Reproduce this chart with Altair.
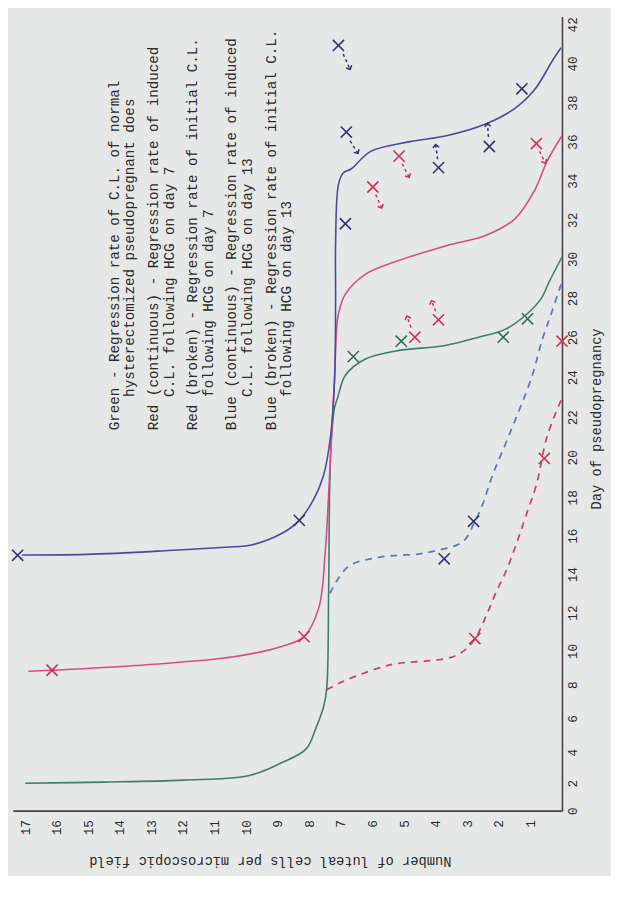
import math
import altair as alt
import pandas as pd

FONT = "Liberation Mono"

# ---------------- data: (luteal cells per field, day of pseudopregnancy) ----------------
green_cells = [17.0, 14.5, 12.0, 9.9, 8.85, 8.1, 7.8, 7.55, 7.45, 7.39, 7.36, 7.3, 7.2, 7.1, 6.86, 6.24, 5.3, 3.66, 2.64, 1.8, 1.1, 0.65, 0.4, 0.0]
green_days = [2.0, 2.07, 2.2, 2.5, 3.35, 4.2, 5.4, 6.7, 7.8, 13.1, 18.2, 21.0, 22.5, 23.0, 24.1, 24.9, 25.3, 25.6, 26.0, 26.4, 27.2, 28.0, 28.85, 30.1]

red_cells = [16.9, 16.15, 13.5, 10.4, 8.85, 8.17, 7.7, 7.5, 7.39, 7.3, 7.2, 7.14, 7.08, 6.86, 6.24, 5.31, 3.66, 2.42, 1.49, 0.87, 0.47, 0.0]
red_days = [8.8, 8.86, 9.14, 9.66, 10.25, 10.75, 12.26, 15.1, 18.15, 21.05, 24.0, 26.4, 27.2, 28.2, 29.2, 29.84, 30.68, 31.2, 32.05, 33.5, 35.0, 36.3]

red_broken_cells = [7.45, 6.93, 5.84, 5.22, 4.19, 3.45, 3.04, 2.73, 2.42, 2.11, 1.74, 1.43, 1.12, 0.81, 0.47, 0.03]
red_broken_days = [7.7, 8.2, 8.97, 9.26, 9.43, 9.66, 10.1, 10.7, 11.76, 12.97, 14.28, 15.64, 17.14, 18.63, 21.05, 22.85]

blue_cells = [17.1, 15.06, 12.45, 10.4, 9.88, 8.85, 8.32, 7.86, 7.55, 7.33, 7.2, 7.17, 7.17, 7.08, 6.93, 6.68, 6.06, 4.81, 3.66, 2.42, 1.49, 0.87, 0.28, 0.03]
blue_days = [15.0, 15.03, 15.23, 15.43, 15.5, 16.14, 16.8, 17.9, 19.1, 21.05, 24.0, 27.9, 30.8, 33.8, 34.4, 34.6, 35.5, 36.0, 36.3, 36.9, 37.7, 38.65, 40.2, 40.8]

blue_broken_cells = [7.35, 6.77, 5.84, 5.22, 4.6, 3.98, 3.35, 3.04, 2.8, 2.52, 2.2, 1.65, 0.96, 0.62, 0.34, 0.03]
blue_broken_days = [13.0, 14.4, 14.86, 14.98, 15.03, 15.23, 15.5, 15.86, 16.6, 17.6, 19.1, 21.2, 24.0, 25.9, 27.2, 28.7]

# observations (X marks)
green_x_cells = [6.61, 5.09, 1.86, 1.09]
green_x_days = [25.03, 25.8, 26.0, 26.94]
red_x_cells = [16.15, 8.17, 5.99, 5.16, 0.81, 4.66, 3.91, 0.0, 2.76, 0.56]
red_x_days = [8.86, 10.75, 33.68, 35.26, 35.9, 26.0, 26.89, 25.8, 10.65, 19.94]
blue_x_cells = [17.24, 8.32, 6.86, 6.83, 7.08, 3.91, 2.3, 1.27, 3.73, 2.8]
blue_x_days = [14.98, 16.8, 31.8, 36.49, 40.92, 34.67, 35.75, 38.7, 14.8, 16.75]

# dashed arrows next to some observations: start/end (cells, day)
arrow_color = ["blue", "blue", "blue", "blue", "red", "red", "red", "red", "red"]
arrow_c1 = [6.93, 6.71, 3.94, 2.33, 5.06, 5.9, 0.71, 4.78, 4.0]
arrow_d1 = [40.48, 36.04, 35.1, 36.24, 34.86, 33.29, 35.5, 26.49, 27.33]
arrow_c2 = [6.71, 6.46, 4.0, 2.36, 4.84, 5.71, 0.53, 4.91, 4.13]
arrow_d2 = [39.69, 35.4, 35.85, 36.93, 34.17, 32.6, 34.9, 27.08, 27.87]

legend_lines = [
    "Green - Regression rate of C.L. of normal",
    "hysterectomized pseudopregnant does",
    "Red (continuous) - Regression rate of induced",
    "C.L. following HCG on day 7",
    "Red (broken) - Regression rate of initial C.L.",
    "following HCG on day 7",
    "Blue (continuous) - Regression rate of induced",
    "C.L. following HCG on day 13",
    "Blue (broken) - Regression rate of initial C.L.",
    "following HCG on day 13",
]

day_ticks = list(range(0, 43, 2))
cell_ticks = list(range(1, 18))

# ---------------- styling ----------------
COL = {
    "green": "#3d7d6c",
    "red": "#d44c88",
    "red_broken": "#c9436b",
    "blue": "#4a4a9a",
    "blue_broken": "#5a7ab8",
}
MARK_COL = {"green": "#2f6d58", "red": "#cc3050", "blue": "#2f3078"}

rows = []
for name, cs, ds in [
    ("green", green_cells, green_days),
    ("red", red_cells, red_days),
    ("red_broken", red_broken_cells, red_broken_days),
    ("blue", blue_cells, blue_days),
    ("blue_broken", blue_broken_cells, blue_broken_days),
]:
    for i, (c, d) in enumerate(zip(cs, ds)):
        rows.append({"series": name, "seq": i, "cells": c, "day": d,
                     "col": COL[name], "dashed": name.endswith("broken")})
lines_df = pd.DataFrame(rows)

mrows = []
for grp, cs, ds in [("green", green_x_cells, green_x_days),
                    ("red", red_x_cells, red_x_days),
                    ("blue", blue_x_cells, blue_x_days)]:
    for c, d in zip(cs, ds):
        mrows.append({"cells": c, "day": d, "col": MARK_COL[grp]})
marks_df = pd.DataFrame(mrows)

PX_CELL, PX_DAY = 32.2, 20.2
arows = []
for g, c1, d1, c2, d2 in zip(arrow_color, arrow_c1, arrow_d1, arrow_c2, arrow_d2):
    dx = -(c2 - c1) * PX_CELL
    dy = -(d2 - d1) * PX_DAY
    ang = math.degrees(math.atan2(-dx, dy)) % 360
    arows.append({"c1": c1, "d1": d1, "c2": c2, "d2": d2, "ang": ang,
                  "col": MARK_COL[g]})
arrows_df = pd.DataFrame(arows)

W, H = 560, 810
xscale = alt.Scale(domain=[0, 17.39], reverse=True, nice=False, zero=False)
yscale = alt.Scale(domain=[0, 2, 4, 10, 18, 26, 42.4],
                   range=[810, 782, 750.4, 647.2, 490.4, 327.1, 0], nice=False, zero=False)

AX_COL = "#4a3e4a"
TXT_COL = "#2a2a2a"

xaxis = alt.Axis(values=cell_ticks, labelAngle=270, labelAlign="right", labelBaseline="middle",
                 labelPadding=9, labelOverlap=False, labelBound=False, labelFlush=False,
                 ticks=False, tickSize=0, grid=False,
                 domainColor=AX_COL, domainWidth=1.6,
                 labelFont=FONT, labelFontSize=13, labelColor=TXT_COL, format="d",
                 title="Number of luteal cells per microscopic field", titleAngle=180,
                 titleFont=FONT, titleFontSize=14, titleFontWeight="normal", titleColor=TXT_COL,
                 titleX=262, titleY=51, titleAlign="center", titleBaseline="middle")
yaxis = alt.Axis(orient="right", values=day_ticks, labelAngle=270, labelAlign="center",
                 labelBaseline="middle", labelPadding=11, labelOverlap=False, labelBound=False,
                 labelFlush=False, ticks=False, tickSize=0, grid=False,
                 domainColor=AX_COL, domainWidth=1.6, labelFont=FONT, labelFontSize=13,
                 labelColor=TXT_COL, format="d",
                 title="Day of pseudopregnancy", titleAngle=270, titleFont=FONT, titleFontSize=14,
                 titleFontWeight="normal", titleColor=TXT_COL, titleX=35, titleY=410,
                 titleAlign="center", titleBaseline="middle")


def X(field):
    return alt.X(field, scale=xscale, axis=xaxis)


def Y(field):
    return alt.Y(field, scale=yscale, axis=yaxis)


base_lines = alt.Chart(lines_df)
solid = base_lines.transform_filter("!datum.dashed").mark_line(
    interpolate="catmull-rom", strokeWidth=1.6).encode(
    x=X("cells:Q"), y=Y("day:Q"),
    color=alt.Color("col:N", scale=None),
    detail="series:N",
    order="seq:Q",
)
dashed = base_lines.transform_filter("datum.dashed").mark_line(
    interpolate="catmull-rom", strokeWidth=1.8, strokeDash=[7, 6]).encode(
    x=X("cells:Q"), y=Y("day:Q"),
    color=alt.Color("col:N", scale=None),
    detail="series:N",
    order="seq:Q",
)

xmarks = alt.Chart(marks_df).mark_point(
    shape="M-1,-1L1,1M1,-1L-1,1", filled=False, strokeWidth=1.6, size=130, opacity=1).encode(
    x=X("cells:Q"), y=Y("day:Q"),
    color=alt.Color("col:N", scale=None),
)

arrow_lines = alt.Chart(arrows_df).mark_rule(strokeWidth=1.5, strokeDash=[3, 3]).encode(
    x=X("c1:Q"), x2="c2:Q",
    y=Y("d1:Q"), y2="d2:Q",
    color=alt.Color("col:N", scale=None),
)
arrow_heads = alt.Chart(arrows_df).mark_point(
    shape="M-1,-1L0,0L1,-1", filled=False, strokeWidth=1.5, size=40, opacity=1).encode(
    x=X("c2:Q"), y=Y("d2:Q"),
    angle=alt.Angle("ang:Q", scale=None),
    color=alt.Color("col:N", scale=None),
)

# legend text block (typed note), positions in pixels
leg_x = [104, 120, 144, 160, 184, 200, 224, 240, 264, 280]
leg_y = [422, 388, 422, 388, 422, 388, 422, 388, 422, 388]
legend_layers = []
for txt, px, py in zip(legend_lines, leg_x, leg_y):
    legend_layers.append(
        alt.Chart(pd.DataFrame({"t": [txt]})).mark_text(
            angle=270, align="left", baseline="middle", font=FONT, fontSize=14.5,
            color=TXT_COL).encode(text="t:N", x=alt.value(px), y=alt.value(py))
    )

chart = alt.layer(solid, dashed, arrow_lines, arrow_heads, xmarks, *legend_layers).properties(
    width=W, height=H, padding={"left": 0, "top": 0, "right": 8, "bottom": 0},
    background="#e6e8e7"
).configure_view(stroke=None)

chart.save("out.html", embed_options={"renderer": "svg", "actions": False})
